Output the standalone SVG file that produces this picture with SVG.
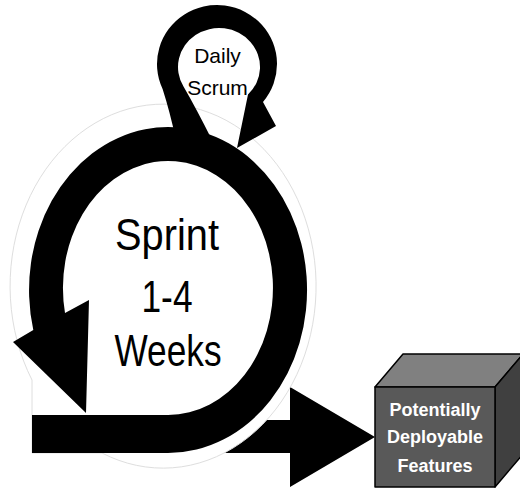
<svg xmlns="http://www.w3.org/2000/svg" width="520" height="490" viewBox="0 0 520 490">
  <style>
    .blk { fill: #000; stroke: none; }
    .halo { fill: #fff; stroke: #dedede; stroke-width: 1; }
    .lbl { font-family: "Liberation Sans", Arial, sans-serif; fill: #000; text-anchor: middle; }
    .cubetxt { font-family: "Liberation Sans", Arial, sans-serif; font-weight: bold; font-size: 18px; fill: #fff; text-anchor: middle; }
    .edge { stroke: #000; stroke-width: 1.5; stroke-linejoin: round; }
  </style>
  <rect width="520" height="490" fill="#fff"/>
  <g id="connectors">
    <path id="output-arrow" class="blk" d="M200,420 L290,420 L290,387 L375,437 L290,487 L290,453 L200,453 Z"/>
    <path id="halo" class="halo" d="M32,380 L32,415 L32,453 L102,453 A153,182 0 1 0 32,380 Z"/>
  </g>
  <g id="daily-scrum">
    <path class="blk" d="M176,140 Q170,112 162.6,88.9 A60,59 0 1 1 263,101.9 L276,126 L237,148 L248,94.6 A41,39 0 1 0 183.5,86.5 Q196,108 212,140 Z"/>
    <text class="lbl" x="217.5" y="63" font-size="21">Daily</text>
    <text class="lbl" x="217.5" y="95" font-size="21">Scrum</text>
  </g>
  <g id="sprint">
    <path class="blk" d="M32,415 L168,415 A105,127 0 1 0 65,313 L89,300 L86,413 L13,342 L33.3,330 A139,163 0 1 1 168,453 L32,453 Z"/>
    <text class="lbl" x="167" y="250" font-size="44" textLength="104" lengthAdjust="spacingAndGlyphs">Sprint</text>
    <text class="lbl" x="167" y="312" font-size="44" textLength="51" lengthAdjust="spacingAndGlyphs">1-4</text>
    <text class="lbl" x="168" y="366" font-size="44" textLength="107" lengthAdjust="spacingAndGlyphs">Weeks</text>
  </g>
  <g id="features">
    <polygon class="edge" fill="#808080" points="375,387 403,354 523,354 495,387"/>
    <polygon class="edge" fill="#404040" points="495,387 523,354 523,454 495,487"/>
    <rect class="edge" fill="#595959" x="375" y="387" width="120" height="100"/>
    <text class="cubetxt" x="435" y="416">Potentially</text>
    <text class="cubetxt" x="435" y="443">Deployable</text>
    <text class="cubetxt" x="435" y="472">Features</text>
  </g>
</svg>
